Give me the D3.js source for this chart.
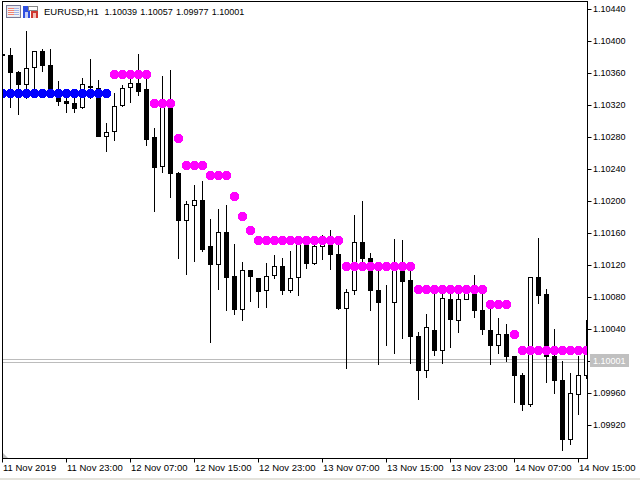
<!DOCTYPE html>
<html>
<head>
<meta charset="utf-8">
<script src="https://cdn.jsdelivr.net/npm/d3@7"></script>
<style>
html, body { margin: 0; padding: 0; background: #fff; overflow: hidden; }
svg { display: block; }
text { font-family: "Liberation Sans", sans-serif; fill: #000; }
</style>
</head>
<body>
<div id="chart"></div>
<script>
const symbol = 'EURUSD,H1';
const ohlc = ['1.10039', '1.10057', '1.09977', '1.10001'];
const lastPrice = 1.10001;
const lastLabel = '1.10001';
const priceLines = [1.10003, 1.09999];

const priceTicks = [1.1044, 1.104, 1.1036, 1.1032, 1.1028, 1.1024, 1.102, 1.1016, 1.1012, 1.1008, 1.1004, 1.1, 1.0996, 1.0992];
const dateTickBars = [0, 8, 16, 24, 32, 40, 48, 56, 64, 72];
const dateLabels = ['11 Nov 2019', '11 Nov 23:00', '12 Nov 07:00', '12 Nov 15:00', '12 Nov 23:00',
    '13 Nov 07:00', '13 Nov 15:00', '13 Nov 23:00', '14 Nov 07:00', '14 Nov 15:00'];

const opens = [1.10384, 1.10383, 1.10361, 1.10346, 1.10368, 1.10388, 1.10370, 1.10339, 1.10325, 1.10323,
    1.10318, 1.10344, 1.10341, 1.10281, 1.10288, 1.10320, 1.10343, 1.10348, 1.10340, 1.10280,
    1.10244, 1.10318, 1.10235, 1.10176, 1.10195, 1.10201, 1.10144, 1.10121, 1.10161, 1.10106,
    1.10065, 1.10114, 1.10104, 1.10089, 1.10108, 1.10119, 1.10089, 1.10105, 1.10148, 1.10123,
    1.10144, 1.10151, 1.10134, 1.10066, 1.10089, 1.10149, 1.10129, 1.10089, 1.10074, 1.10074,
    1.10120, 1.10101, 1.10031, 1.09989, 1.10039, 1.10014, 1.10078, 1.10051, 1.10078, 1.10085,
    1.10064, 1.10039, 1.10020, 1.10034, 1.10006, 1.09983, 1.09946, 1.10105, 1.10084, 1.10006,
    1.09976, 1.09903, 1.09959, 1.09983];
const highs = [1.10391, 1.10392, 1.10364, 1.10414, 1.10389, 1.10391, 1.10391, 1.10351, 1.10336, 1.10339,
    1.10355, 1.10379, 1.10353, 1.10299, 1.10336, 1.10346, 1.10354, 1.10385, 1.10354, 1.10293,
    1.10358, 1.10365, 1.10238, 1.10201, 1.10221, 1.10226, 1.10179, 1.10191, 1.10196, 1.10148,
    1.10125, 1.10114, 1.10105, 1.10124, 1.10134, 1.10130, 1.10139, 1.10154, 1.10158, 1.10154,
    1.10159, 1.10165, 1.10146, 1.10091, 1.10184, 1.10201, 1.10136, 1.10120, 1.10096, 1.10154,
    1.10153, 1.10124, 1.10038, 1.10060, 1.10095, 1.10095, 1.10095, 1.10095, 1.10096, 1.10109,
    1.10086, 1.10074, 1.10055, 1.10048, 1.10006, 1.09986, 1.10106, 1.10155, 1.10091, 1.10041,
    1.10001, 1.09986, 1.10008, 1.10053];
const lows = [1.10376, 1.10318, 1.10309, 1.10329, 1.10336, 1.10363, 1.10333, 1.10320, 1.10311, 1.10311,
    1.10316, 1.10329, 1.10281, 1.10263, 1.10276, 1.10319, 1.10324, 1.10333, 1.10270, 1.10188,
    1.10236, 1.10205, 1.10129, 1.10109, 1.10125, 1.10138, 1.10024, 1.10090, 1.10064, 1.10059,
    1.10051, 1.10075, 1.10068, 1.10068, 1.10104, 1.10084, 1.10086, 1.10083, 1.10116, 1.10121,
    1.10128, 1.10115, 1.10065, 1.09991, 1.10084, 1.10115, 1.10064, 1.09996, 1.10020, 1.10010,
    1.10029, 1.09998, 1.09953, 1.09980, 1.10008, 1.09998, 1.10018, 1.10036, 1.10078, 1.10055,
    1.10034, 1.09996, 1.10010, 1.10000, 1.09949, 1.09939, 1.09944, 1.10073, 1.09974, 1.09960,
    1.09889, 1.09896, 1.09934, 1.09979];
const closes = [1.10382, 1.10361, 1.10346, 1.10366, 1.10388, 1.10370, 1.10339, 1.10325, 1.10323, 1.10316,
    1.10346, 1.10343, 1.10281, 1.10286, 1.10319, 1.10341, 1.10348, 1.10338, 1.10278, 1.10243,
    1.10318, 1.10235, 1.10176, 1.10196, 1.10201, 1.10140, 1.10121, 1.10161, 1.10105, 1.10065,
    1.10114, 1.10106, 1.10088, 1.10106, 1.10119, 1.10089, 1.10104, 1.10151, 1.10123, 1.10144,
    1.10151, 1.10134, 1.10066, 1.10086, 1.10149, 1.10129, 1.10089, 1.10074, 1.10074, 1.10120,
    1.10100, 1.10031, 1.09989, 1.10043, 1.10014, 1.10079, 1.10053, 1.10078, 1.10095, 1.10064,
    1.10040, 1.10020, 1.10034, 1.10006, 1.09983, 1.09946, 1.10105, 1.10083, 1.10006, 1.09976,
    1.09903, 1.09960, 1.09983, 1.10010];

// indicator dots, one per bar, null where the colour is not used
const blueDots = [1.10335, 1.10335, 1.10335, 1.10335, 1.10335, 1.10335, 1.10335, 1.10335, 1.10335, 1.10335,
    1.10335, 1.10335, 1.10335, 1.10335];
const magentaDots = [null, null, null, null, null, null, null, null, null, null,
    null, null, null, null, 1.10359, 1.10359, 1.10359, 1.10359, 1.10359, 1.10323,
    1.10323, 1.10323, 1.10279, 1.10245, 1.10245, 1.10245, 1.10233, 1.10233, 1.10233, 1.10206,
    1.10181, 1.10164, 1.10151, 1.10151, 1.10151, 1.10151, 1.10151, 1.10151, 1.10151, 1.10151,
    1.10151, 1.10151, 1.10151, 1.10119, 1.10119, 1.10119, 1.10119, 1.10119, 1.10119, 1.10119,
    1.10119, 1.10119, 1.10090, 1.10090, 1.10090, 1.10090, 1.10090, 1.10090, 1.10090, 1.10090,
    1.10090, 1.10071, 1.10071, 1.10071, 1.10034, 1.10014, 1.10014, 1.10014, 1.10014, 1.10014,
    1.10014, 1.10014, 1.10014, 1.10014];

const width = 640;
const height = 480;
const plotLeft = 2.5;
const plotRight = 587.5;
const plotTop = 1.5;
const plotBottom = 458.5;

const svg = d3.select('#chart').append('svg')
    .attr('width', width)
    .attr('height', height);

const x = d3.scaleLinear().domain([0, 73]).range([2.5, 586.5]);
const y = d3.scaleLinear().domain([1.1044, 1.0992]).range([9.5, 425.5]);

// snap a price to the middle of its pixel row
const py = p => Math.floor(y(p)) + 0.5;

const bars = opens.map((o, i) => ({ i, o, h: highs[i], l: lows[i], c: closes[i] }));

svg.append('defs').append('clipPath')
    .attr('id', 'plot')
    .append('rect')
    .attr('x', 3)
    .attr('y', 2)
    .attr('width', 584)
    .attr('height', 456);

const plot = svg.append('g').attr('clip-path', 'url(#plot)');

// Bid and ask lines
plot.selectAll('.price-line')
    .data(priceLines)
    .join('line')
    .attr('class', 'price-line')
    .attr('x1', plotLeft)
    .attr('x2', plotRight)
    .attr('y1', py)
    .attr('y2', py)
    .attr('stroke', '#bcbcbc');

// Candles
const candle = plot.selectAll('.candle')
    .data(bars)
    .join('g')
    .attr('class', 'candle')
    .attr('shape-rendering', 'crispEdges');

candle.append('line')
    .attr('x1', d => x(d.i))
    .attr('x2', d => x(d.i))
    .attr('y1', d => py(d.h))
    .attr('y2', d => py(d.l) + 0.5)
    .attr('stroke', '#000');

candle.append('rect')
    .attr('x', d => x(d.i) - 2)
    .attr('width', 4)
    .attr('y', d => py(Math.max(d.o, d.c)))
    .attr('height', d => py(Math.min(d.o, d.c)) - py(Math.max(d.o, d.c)))
    .attr('fill', d => d.c > d.o ? '#fff' : '#000')
    .attr('stroke', '#000');

// Dots
const dots = (values, color) => plot.append('g')
    .attr('shape-rendering', 'crispEdges')
    .selectAll('circle')
    .data(values.map((v, i) => ({ i, v })).filter(d => d.v !== null))
    .join('circle')
    .attr('cx', d => x(d.i))
    .attr('cy', d => py(d.v))
    .attr('r', 4.6)
    .attr('fill', color);

dots(blueDots, '#0000ff');
dots(magentaDots, '#ff00ff');

// Price axis
const yAxis = d3.axisRight(y)
    .tickValues(priceTicks)
    .tickSize(4)
    .tickPadding(1.5)
    .offset(0)
    .tickFormat(d => d === 1.1 ? '' : d3.format('.5f')(d));

svg.append('g')
    .attr('transform', `translate(${plotRight},0)`)
    .call(yAxis)
    .call(g => g.select('.domain').remove())
    .call(g => g.selectAll('text').attr('font-size', 9).attr('font-family', '"Liberation Sans", sans-serif'));

// Date axis
const xAxis = d3.axisBottom(x)
    .tickValues(dateTickBars)
    .tickSize(4)
    .offset(0)
    .tickFormat((d, i) => dateLabels[i]);

svg.append('g')
    .attr('transform', `translate(0,${plotBottom})`)
    .call(xAxis)
    .call(g => g.select('.domain').remove())
    .call(g => g.selectAll('text')
        .attr('text-anchor', 'start')
        .attr('x', 0.5)
        .attr('y', 12)
        .attr('dy', 0)
        .attr('font-size', 9.5)
        .attr('font-family', '"Liberation Sans", sans-serif'));

// Frame
svg.append('rect')
    .attr('x', plotLeft)
    .attr('y', plotTop)
    .attr('width', plotRight - plotLeft)
    .attr('height', plotBottom - plotTop)
    .attr('fill', 'none')
    .attr('stroke', '#000');

// Small corner mark
svg.append('path')
    .attr('d', 'M3,453L3,458L8,458Z')
    .attr('fill', '#c0c0c0');

// Current price label
svg.append('rect')
    .attr('x', 590)
    .attr('y', 354)
    .attr('width', 39)
    .attr('height', 13)
    .attr('fill', '#c0c0c0');

svg.append('text')
    .attr('x', 593)
    .attr('y', y(lastPrice) + 3.2)
    .attr('font-size', 9)
    .style('fill', '#fff')
    .text(lastLabel);

// Header icons
const icons = svg.append('g').attr('shape-rendering', 'crispEdges');
icons.append('rect').attr('x', 6.5).attr('y', 5.5).attr('width', 14).attr('height', 12)
    .attr('fill', '#e8e8f0').attr('stroke', '#7a7a96');
icons.append('rect').attr('x', 8).attr('y', 8).attr('width', 6).attr('height', 8).attr('fill', '#f08070');
icons.append('rect').attr('x', 14).attr('y', 8).attr('width', 5).attr('height', 8).attr('fill', '#a0b4e8');
icons.selectAll('.gap').data([9, 11, 13, 15]).join('rect')
    .attr('class', 'gap').attr('x', 8).attr('y', d => d).attr('width', 11).attr('height', 1).attr('fill', '#f4f4f4');
icons.append('path').attr('d', 'M23,6H30V18H23Z').attr('fill', '#2f4fe0');
icons.append('path').attr('d', 'M31,10H38V18H31Z').attr('fill', '#d03830');
icons.append('path').attr('d', 'M28,6H37V10H28Z').attr('fill', '#fff').attr('stroke', '#888');
icons.append('rect').attr('x', 25).attr('y', 12).attr('width', 3).attr('height', 6).attr('fill', '#c8d0f4');
icons.append('rect').attr('x', 33).attr('y', 13).attr('width', 3).attr('height', 5).attr('fill', '#f0c0b8');

// Header text
const header = svg.append('text')
    .attr('x', 44)
    .attr('y', 15)
    .attr('font-size', 9.5);

header.append('tspan').text(symbol);

header.append('tspan')
    .attr('x', 104.5)
    .attr('font-size', 9)
    .attr('word-spacing', 0.7)
    .text(ohlc.join(' '));

// Window edge under the chart
svg.append('rect')
    .attr('x', 0)
    .attr('y', 478)
    .attr('width', width)
    .attr('height', 2)
    .attr('fill', '#e4e3dc');
</script>
</body>
</html>
